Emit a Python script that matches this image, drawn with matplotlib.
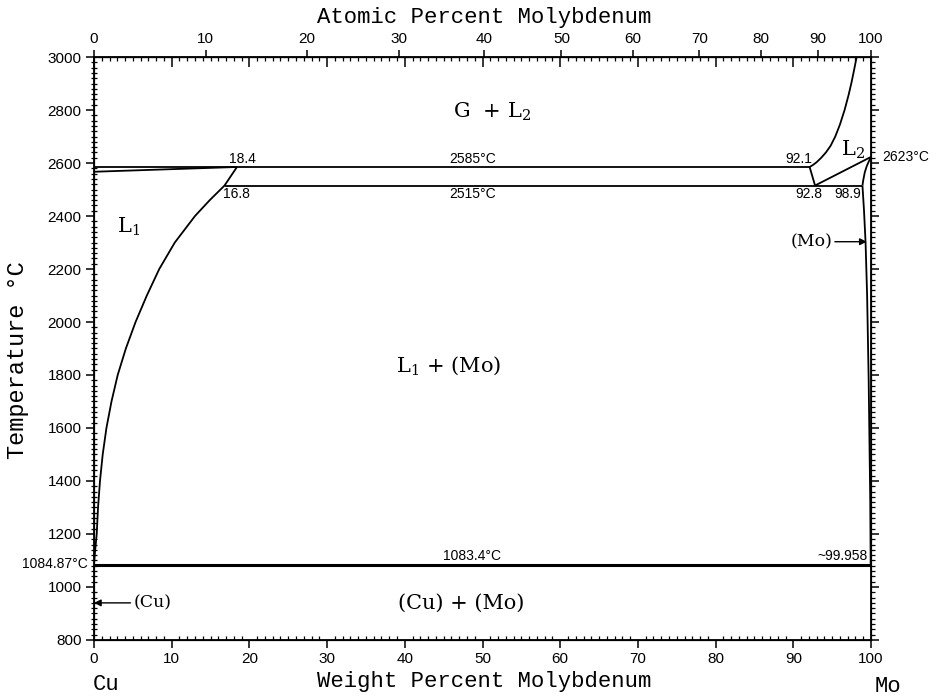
import numpy as np
import matplotlib
matplotlib.use("Agg")
import matplotlib.pyplot as plt
from matplotlib.ticker import MultipleLocator

plt.rcParams["font.family"] = ["Liberation Sans", "DejaVu Sans"]
plt.rcParams["mathtext.fontset"] = "dejavuserif"

M_MO = 95.94
M_CU = 63.546


def wt_to_at(w):
    w = np.asarray(w, dtype=float)
    a = w / M_MO
    b = (100.0 - w) / M_CU
    return 100.0 * a / (a + b)


def at_to_wt(a):
    a = np.asarray(a, dtype=float)
    x = a * M_MO
    y = (100.0 - a) * M_CU
    return 100.0 * x / (x + y)


# --- data (wt% Mo, temperature in C) ---
liq1_wt = [0.0, 0.12, 0.22, 0.35, 0.52, 0.77, 1.12, 1.6, 2.25, 3.05, 4.1,
           5.35, 6.8, 8.4, 10.4, 13.0, 14.9, 16.8, 18.4]
liq1_T = [1084.87, 1130, 1160, 1200, 1300, 1400, 1500, 1600, 1700, 1800, 1900,
          2000, 2100, 2200, 2300, 2400, 2460, 2515, 2585]

gas1_wt = [0.0, 18.4]
gas1_T = [2567, 2585]

mono_hi_wt = [0.0, 92.1]
mono_hi_T = [2585, 2585]

mono_lo_wt = [16.8, 98.9]
mono_lo_T = [2515, 2515]

gap_wt = [92.1, 92.8]
gap_T = [2585, 2515]

liq2_wt = [92.8, 100.0]
liq2_T = [2515, 2623]

gas2_wt = [92.1, 92.5, 93.0, 93.6, 94.2, 94.8, 95.4, 96.0, 96.6, 97.1, 97.5, 97.85, 98.15]
gas2_T = [2585, 2592, 2603, 2620, 2640, 2665, 2700, 2745, 2800, 2855, 2905, 2955, 3000]

mo_sol_wt = [100.0, 99.7, 99.45, 99.2, 99.0, 98.9]
mo_sol_T = [2623, 2605, 2588, 2565, 2535, 2515]

mo_solv_wt = [98.9, 99.1, 99.3, 99.5, 99.7, 99.9, 99.958]
mo_solv_T = [2515, 2420, 2300, 2100, 1780, 1330, 1083.4]

eut_wt = [0.0, 100.0]
eut_T = [1083.4, 1083.4]

at_ticks = list(range(0, 101, 10))

fig = plt.figure(figsize=(9.4, 6.97), dpi=100)
ax = fig.add_axes([0.1, 0.0818, 0.8266, 0.8364])

lw = 1.3
for xs, ys in [(liq1_wt, liq1_T), (gas1_wt, gas1_T), (mono_hi_wt, mono_hi_T),
               (mono_lo_wt, mono_lo_T), (gap_wt, gap_T), (liq2_wt, liq2_T),
               (gas2_wt, gas2_T), (mo_sol_wt, mo_sol_T), (mo_solv_wt, mo_solv_T)]:
    ax.plot(xs, ys, color="black", lw=lw, solid_capstyle="butt", solid_joinstyle="round")
ax.plot(eut_wt, eut_T, color="black", lw=2.2)

ax.set_xlim(0, 100)
ax.set_ylim(800, 3000)
ax.xaxis.set_major_locator(MultipleLocator(10))
ax.xaxis.set_minor_locator(MultipleLocator(1))
ax.yaxis.set_major_locator(MultipleLocator(200))
ax.yaxis.set_minor_locator(MultipleLocator(20))
ax.tick_params(axis="x", which="major", direction="out", length=6, width=1.1, labelsize=11, pad=3)
ax.tick_params(axis="x", which="minor", direction="in", length=3, width=0.9)
ax.tick_params(axis="y", which="major", direction="out", length=6, width=1.1, labelsize=11, pad=3)
ax.tick_params(axis="y", which="minor", direction="inout", length=5, width=0.9)
for s in ax.spines.values():
    s.set_linewidth(1.3)

# mirrored weight ticks on top, pointing in
axt = ax.twiny()
axt.set_xlim(0, 100)
axt.xaxis.set_major_locator(MultipleLocator(10))
axt.xaxis.set_minor_locator(MultipleLocator(1))
axt.tick_params(axis="x", which="major", direction="in", length=7, width=1.1, labeltop=False)
axt.tick_params(axis="x", which="minor", direction="in", length=3, width=0.9)

# mirrored temperature ticks on the right, pointing out
axr = ax.twinx()
axr.set_ylim(800, 3000)
axr.yaxis.set_major_locator(MultipleLocator(200))
axr.yaxis.set_minor_locator(MultipleLocator(20))
axr.tick_params(axis="y", which="major", direction="out", length=6, width=1.1, labelright=False)
axr.tick_params(axis="y", which="minor", direction="out", length=3, width=0.9)

# atomic percent scale
sec = ax.secondary_xaxis("top", functions=(wt_to_at, at_to_wt))
sec.set_xticks(at_ticks)
sec.tick_params(axis="x", which="major", direction="out", length=5, width=1.1, labelsize=11, pad=3)
sec.tick_params(axis="x", which="minor", length=0)

# phase labels
serif = "DejaVu Serif"
ax.text(51.2, 2792, "G  + L$_2$", ha="center", va="center", fontsize=15, family=serif)
ax.text(97.7, 2649, "L$_2$", ha="center", va="center", fontsize=15, family=serif)
ax.text(4.4, 2358, "L$_1$", ha="center", va="center", fontsize=15, family=serif)
ax.text(45.6, 1834, "L$_1$ + (Mo)", ha="center", va="center", fontsize=15, family=serif)
ax.text(47.2, 940, "(Cu) + (Mo)", ha="center", va="center", fontsize=15, family=serif)

# small numbers
fs = 10
ax.text(19.1, 2590, "18.4", ha="center", va="bottom", fontsize=fs)
ax.text(48.7, 2590, "2585°C", ha="center", va="bottom", fontsize=fs)
ax.text(90.7, 2590, "92.1", ha="center", va="bottom", fontsize=fs)
ax.text(18.3, 2508, "16.8", ha="center", va="top", fontsize=fs)
ax.text(48.7, 2508, "2515°C", ha="center", va="top", fontsize=fs)
ax.text(92.0, 2508, "92.8", ha="center", va="top", fontsize=fs)
ax.text(97.0, 2508, "98.9", ha="center", va="top", fontsize=fs)
ax.text(101.4, 2623, "2623°C", ha="left", va="center", fontsize=fs, clip_on=False)
ax.text(48.6, 1090, "1083.4°C", ha="center", va="bottom", fontsize=fs)
ax.text(99.6, 1090, "~99.958", ha="right", va="bottom", fontsize=fs)
ax.text(-0.8, 1084.87, "1084.87°C", ha="right", va="center", fontsize=fs, clip_on=False)

ax.annotate("(Mo)", xy=(99.45, 2303), xytext=(92.3, 2303), ha="center", va="center",
            fontsize=12.5, family=serif,
            arrowprops=dict(arrowstyle="-|>", color="black", lw=1.0, mutation_scale=10,
                            shrinkA=0, shrinkB=0))
ax.annotate("(Cu)", xy=(0.0, 940), xytext=(7.5, 940), ha="center", va="center",
            fontsize=12.5, family=serif,
            arrowprops=dict(arrowstyle="-|>", color="black", lw=1.0, mutation_scale=10,
                            shrinkA=0, shrinkB=0))

# axis titles
lab = dict(fontsize=16, family=["Liberation Mono", "DejaVu Sans Mono"])
fig.text(484 / 940, 1 - 18 / 697, "Atomic Percent Molybdenum", ha="center", va="center", **lab)
fig.text(484 / 940, 1 - 681 / 697, "Weight Percent Molybdenum", ha="center", va="center", **lab)
fig.text(18 / 940, 1 - 360 / 697, "Temperature °C", ha="center", va="center", rotation=90,
         fontsize=17, family=["Liberation Mono", "DejaVu Sans Mono"])
fig.text(106 / 940, 1 - 684 / 697, "Cu", ha="center", va="center", **lab)
fig.text(888 / 940, 1 - 686 / 697, "Mo", ha="center", va="center", **lab)

fig.savefig("out.png", dpi=100)
